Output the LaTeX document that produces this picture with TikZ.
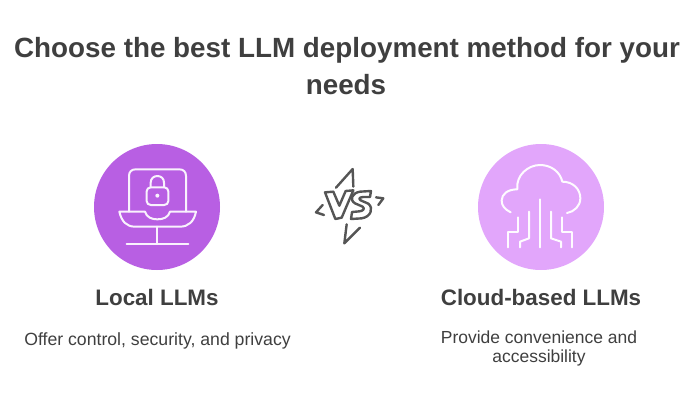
\documentclass[tikz,border=0pt]{standalone}
\usepackage{fontspec}
\setmainfont{Liberation Sans}
\definecolor{txt}{HTML}{3F3F3F}
\definecolor{leftc}{HTML}{B85FE3}
\definecolor{rightc}{HTML}{E2A6FB}
\definecolor{vsc}{HTML}{555555}
\tikzset{
  title/.style={text=txt,font=\fontsize{20.85}{20.85}\selectfont\bfseries,anchor=center,inner sep=0},
  head/.style={text=txt,font=\fontsize{16.8}{16.8}\selectfont\bfseries,anchor=center,inner sep=0},
  desc/.style={text=txt,font=\fontsize{13.25}{13.25}\selectfont,anchor=center,inner sep=0},
  desctwo/.style={text=txt,font=\fontsize{13.1}{13.1}\selectfont,anchor=center,inner sep=0},
  icon/.style={draw=white!92!leftc,line width=1.5pt,line cap=round,line join=round},
  vsline/.style={draw=vsc,line width=1.8pt,line cap=round,line join=round}
}
\begin{document}
\begin{tikzpicture}[x=0.75pt,y=-0.75pt]
\useasboundingbox (0,0) rectangle (700,400);
\node[title] (t1) at (347,50) {Choose the best LLM deployment method for your};
\node[title] (t2) at (346,85) {needs};
\fill[leftc] (157,207) circle[radius=63];
\fill[rightc] (541,207) circle[radius=63];
% laptop icon
\begin{scope}[shift={(80,130)},x=0.25pt,y=-0.25pt]
 \draw[icon] (147,245) -- (147,138) .. controls (147,125) and (155,118) .. (167,118) -- (298,118) .. controls (310,118) and (318,125) .. (318,138) -- (318,245);
 \draw[icon] (118,245) -- (195,245) .. controls (200,262) and (215,268) .. (232,268) .. controls (250,268) and (265,262) .. (270,245) -- (348,245) .. controls (342,275) and (325,290) .. (300,290) -- (165,290) .. controls (140,290) and (125,275) .. (118,245) -- cycle;
 \draw[icon] (232,290) -- (232,342);
 \draw[icon] (140,342) -- (325,342);
 \draw[icon] (212,172) -- (212,158) .. controls (212,145) and (222,138) .. (232,138) .. controls (243,138) and (252,145) .. (252,158) -- (252,172);
 \draw[icon,rounded corners=3pt] (200,172) rectangle (265,225);
 \fill[white!92!leftc] (232,197) circle[radius=6];
\end{scope}
% cloud icon
\begin{scope}[shift={(465,130)},x=0.25pt,y=-0.25pt]
 \draw[icon,draw=white!95!rightc] (137,247) .. controls (120,238) and (110,228) .. (110,212) .. controls (110,192) and (128,178) .. (157,178) .. controls (152,135) and (190,105) .. (225,105) .. controls (258,105) and (285,125) .. (292,155) .. controls (325,155) and (346,178) .. (346,205) .. controls (346,228) and (328,245) .. (306,249);
 \draw[icon,draw=white!95!rightc] (225,208) -- (225,352);
 \draw[icon,draw=white!95!rightc] (160,262) -- (160,305) -- (130,305) -- (130,352);
 \draw[icon,draw=white!95!rightc] (192,245) -- (192,325) -- (165,335) -- (165,352);
 \draw[icon,draw=white!95!rightc] (258,245) -- (258,325) -- (288,335) -- (288,352);
 \draw[icon,draw=white!95!rightc] (290,262) -- (290,305) -- (322,305) -- (322,352);
\end{scope}
% VS mark
\begin{scope}[shift={(300,155)},x=0.25pt,y=-0.25pt]
 \draw[vsline] (108,98) -- (158,42) -- (160,95);
 \draw[vsline] (68,150) -- (48,172) -- (72,180);
 \draw[vsline] (228,127) -- (250,130) -- (235,150);
 \draw[vsline] (140,208) -- (133,265) -- (180,218);
 \draw[vsline] (75,112) -- (100,110) -- (118,152) -- (137,108) -- (160,106) -- (125,188) -- (106,192) -- cycle;
 \draw[vsline] (213,108) -- (180,110) .. controls (155,114) and (148,135) .. (165,145) -- (188,155) .. controls (196,162) and (188,168) .. (178,169) -- (156,171) -- (153,192) -- (185,190) .. controls (212,186) and (222,160) .. (205,146) -- (182,136) .. controls (174,130) and (180,127) .. (190,126) -- (210,126) -- cycle;
\end{scope}
\node[head] (a) at (157,297) {Local LLMs};
\node[head] (b) at (541,297) {Cloud-based LLMs};
\node[desc] (c) at (157.5,341) {Offer control, security, and privacy};
\node[desctwo] (d) at (539,337) {Provide convenience and};
\node[desctwo] (e) at (539,358) {accessibility};
\end{tikzpicture}
\end{document}
